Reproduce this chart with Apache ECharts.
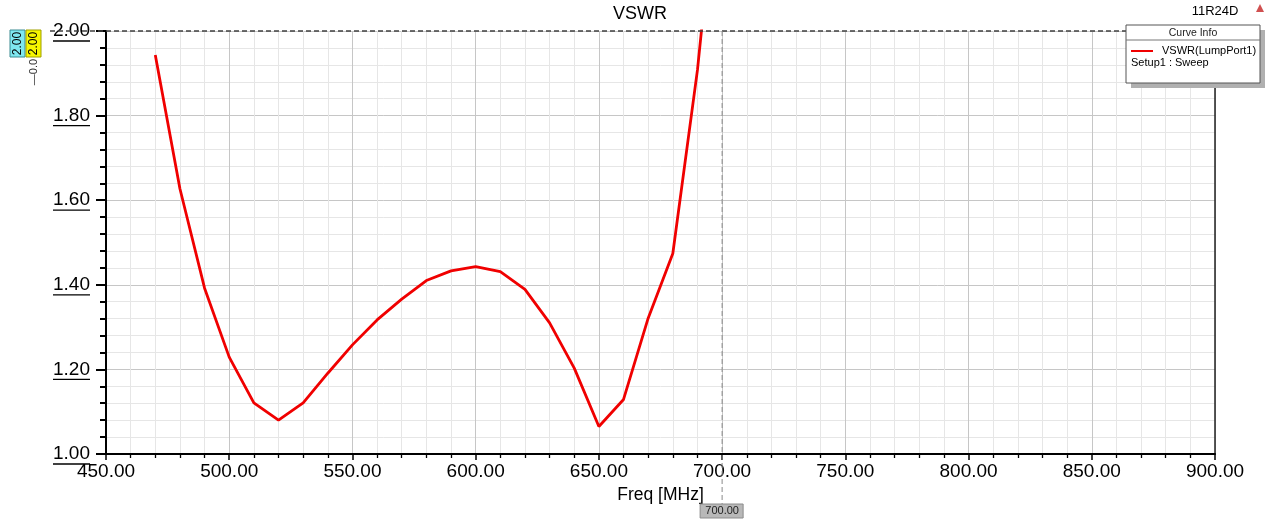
<!DOCTYPE html>
<html><head><meta charset="utf-8">
<script src="https://cdn.jsdelivr.net/npm/echarts@6/dist/echarts.min.js"></script>
<style>html,body{margin:0;padding:0;background:#fff}#c{width:1280px;height:523px}</style>
</head><body><div id="c"></div>
<script>
// ---- data ----
const freqMHz = [470, 480, 490, 500, 510, 520, 530, 540, 550, 560, 570, 580, 590, 600, 610, 620, 630, 640, 650, 660, 670, 680, 690, 700];
const vswrValues = [1.943, 1.627, 1.392, 1.229, 1.121, 1.080, 1.121, 1.191, 1.258, 1.317, 1.366, 1.410, 1.433, 1.443, 1.431, 1.389, 1.310, 1.203, 1.065, 1.129, 1.321, 1.474, 1.908, 2.48];
const xTickLabels = ['450.00','500.00','550.00','600.00','650.00','700.00','750.00','800.00','850.00','900.00'];
const yTickLabels = ['1.00','1.20','1.40','1.60','1.80','2.00'];
const yTickValues = [1.0, 1.2, 1.4, 1.6, 1.8, 2.0];
const seriesName = 'VSWR(LumpPort1)';
const titleText = 'VSWR';
const xName = 'Freq [MHz]';
const markerFreq = 700;
const markerValue = 2.0;
const designName = '11R24D';
const setupText = 'Setup1 : Sweep';

const FONT = '"Liberation Sans", Arial, sans-serif';
const chart = echarts.init(document.getElementById('c'));

const option = {
  animation: false,
  backgroundColor: '#ffffff',
  title: { text: titleText, left: 'center', top: 0,
    textStyle: { fontFamily: FONT, fontSize: 18, fontWeight: 'normal', color: '#000' } },
  grid: { left: 106, right: 65, top: 31, bottom: 69, containLabel: false },
  xAxis: {
    type: 'value', min: 450, max: 900, interval: 50,
    name: xName, nameLocation: 'middle', nameGap: 27,
    nameTextStyle: { fontFamily: FONT, fontSize: 17.5, color: '#000' },
    axisLine: { show: true, onZero: false, lineStyle: { color: '#000', width: 2 } },
    axisTick: { show: true, inside: false, length: 6, lineStyle: { color: '#000', width: 1.5 } },
    minorTick: { show: true, splitNumber: 5, length: 4, lineStyle: { color: '#000', width: 1.3 } },
    axisLabel: { margin: 8, fontFamily: FONT, fontSize: 19, color: '#000',
      formatter: v => xTickLabels[Math.round((v - 450) / 50)] },
    splitLine: { show: true, lineStyle: { color: '#c6c6c6', width: 1 } },
    minorSplitLine: { show: true, lineStyle: { color: '#e6e6e6', width: 1 } }
  },
  yAxis: [{
    type: 'value', min: 1.0, max: 2.0, interval: 0.2,
    axisLine: { show: true, onZero: false, lineStyle: { color: '#000', width: 2 } },
    axisTick: { show: true, inside: false, length: 10, lineStyle: { color: '#000', width: 2 } },
    minorTick: { show: true, splitNumber: 5, length: 6, lineStyle: { color: '#000', width: 2 } },
    axisLabel: { margin: 16, fontFamily: FONT, fontSize: 19, color: '#000',
      formatter: v => yTickLabels[Math.round((v - 1.0) / 0.2)] },
    splitLine: { show: true, lineStyle: { color: '#c6c6c6', width: 1 } },
    minorSplitLine: { show: true, lineStyle: { color: '#e6e6e6', width: 1 } }
  }, {
    type: 'value', min: 1.0, max: 2.0, interval: 0.2, position: 'right',
    axisLine: { show: true, lineStyle: { color: '#222', width: 1.5 } },
    axisTick: { show: false }, axisLabel: { show: false }, splitLine: { show: false }
  }],
  series: [{
    name: seriesName, type: 'line', data: freqMHz.map((f, i) => [f, vswrValues[i]]),
    showSymbol: false, symbol: 'none', clip: true,
    lineStyle: { color: '#f00000', width: 2.8 }, z: 5
  }]
};
chart.setOption(option);

// ---- annotations positioned through the axes' scales ----
const px = (x, y) => chart.convertToPixel({ xAxisIndex: 0, yAxisIndex: 0 }, [x, y]);
const g = [];
const pTop = px(markerFreq, markerValue);
const pBot = px(markerFreq, 1.0);
// top horizontal dashed marker line at 2.00
g.push({ type: 'line', shape: { x1: 50, y1: pTop[1], x2: 1126, y2: pTop[1] },
  style: { stroke: '#404040', lineWidth: 1.5, lineDash: [5, 3] }, z: 20 });
// vertical dashed marker at 700
g.push({ type: 'line', shape: { x1: pTop[0], y1: pTop[1], x2: pTop[0], y2: pBot[1] + 50 },
  style: { stroke: '#8a8a8a', lineWidth: 1, lineDash: [5, 3] }, z: 20 });
g.push({ type: 'rect', shape: { x: pTop[0] - 22, y: pBot[1] + 50, width: 43, height: 14 },
  style: { fill: '#b8b8b8', stroke: '#8c8c8c', lineWidth: 1 }, z: 21 });
g.push({ type: 'text', x: pTop[0], y: pBot[1] + 57,
  style: { text: markerFreq.toFixed(2), fontFamily: FONT, fontSize: 11, fill: '#222', align: 'center', verticalAlign: 'middle' }, z: 22 });
// underlines for y labels
yTickValues.forEach(v => {
  const p = px(450, v);
  g.push({ type: 'line', shape: { x1: 53, y1: p[1] + 10, x2: 90, y2: p[1] + 10 },
    style: { stroke: '#000', lineWidth: 1.3 }, z: 20 });
});
// left marker boxes
g.push({ type: 'rect', shape: { x: 10, y: 30, width: 15, height: 27 }, style: { fill: '#7fe8f0', stroke: '#3a8a90', lineWidth: 1 }, z: 20 });
g.push({ type: 'text', x: 17.5, y: 43.5, rotation: Math.PI / 2,
  style: { text: markerValue.toFixed(2), fontFamily: FONT, fontSize: 12, fill: '#000', align: 'center', verticalAlign: 'middle' }, z: 21 });
g.push({ type: 'rect', shape: { x: 26, y: 30, width: 15, height: 27 }, style: { fill: '#f6f600', stroke: '#a0a000', lineWidth: 1 }, z: 20 });
g.push({ type: 'text', x: 33.5, y: 43.5, rotation: Math.PI / 2,
  style: { text: markerValue.toFixed(2), fontFamily: FONT, fontSize: 12, fill: '#000', align: 'center', verticalAlign: 'middle' }, z: 21 });
g.push({ type: 'text', x: 34, y: 72, rotation: Math.PI / 2,
  style: { text: '—0.0', fontFamily: FONT, fontSize: 11, fill: '#333', align: 'center', verticalAlign: 'middle' }, z: 19 });
// design name and icon
g.push({ type: 'text', x: 1215, y: 11,
  style: { text: designName, fontFamily: FONT, fontSize: 13, fill: '#000', align: 'center', verticalAlign: 'middle' }, z: 20 });
g.push({ type: 'polygon', shape: { points: [[1260, 4], [1256, 12], [1264, 12]] }, style: { fill: '#d05050' }, z: 20 });
// curve info box
g.push({ type: 'rect', shape: { x: 1131, y: 30, width: 134, height: 58 }, style: { fill: '#b0b0b0' }, z: 29 });
g.push({ type: 'rect', shape: { x: 1126, y: 25, width: 134, height: 58 }, style: { fill: '#fff', stroke: '#555', lineWidth: 1 }, z: 30 });
g.push({ type: 'line', shape: { x1: 1126, y1: 40, x2: 1260, y2: 40 }, style: { stroke: '#777', lineWidth: 1 }, z: 31 });
g.push({ type: 'text', x: 1193, y: 33,
  style: { text: 'Curve Info', fontFamily: FONT, fontSize: 10.5, fill: '#222', align: 'center', verticalAlign: 'middle' }, z: 31 });
g.push({ type: 'line', shape: { x1: 1131, y1: 51, x2: 1153, y2: 51 }, style: { stroke: '#f00000', lineWidth: 2 }, z: 31 });
g.push({ type: 'text', x: 1162, y: 51,
  style: { text: seriesName, fontFamily: FONT, fontSize: 11, fill: '#000', align: 'left', verticalAlign: 'middle' }, z: 31 });
g.push({ type: 'text', x: 1131, y: 63,
  style: { text: setupText, fontFamily: FONT, fontSize: 11, fill: '#000', align: 'left', verticalAlign: 'middle' }, z: 31 });

chart.setOption({ graphic: g });
</script>
</body></html>
